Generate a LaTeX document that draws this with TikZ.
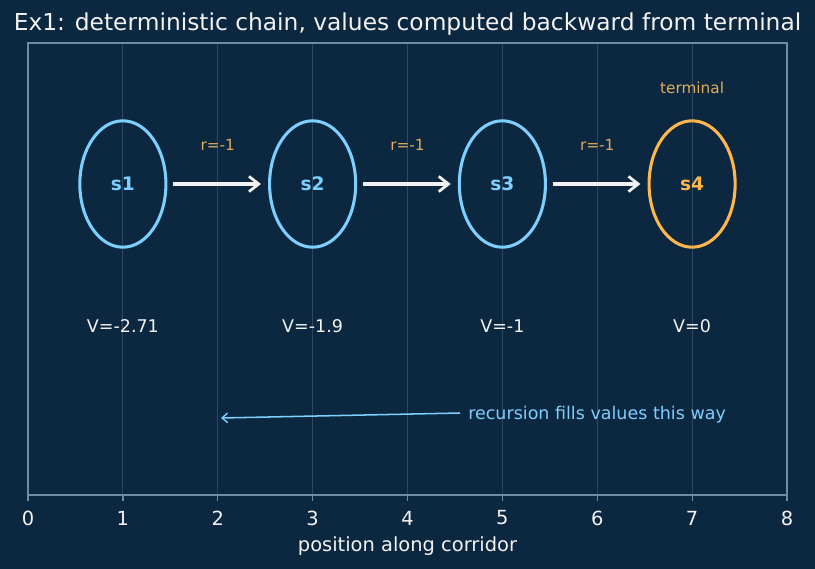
\documentclass[tikz,border=0pt]{standalone}
\usepackage{fontspec}
\setmainfont{DejaVu Sans}
\usetikzlibrary{shapes.geometric,arrows.meta}

\definecolor{bgnavy}{RGB}{12,39,64}
\definecolor{stblue}{RGB}{125,207,255}
\definecolor{termorange}{RGB}{255,183,77}
\definecolor{rorange}{RGB}{226,172,88}
\definecolor{gridline}{RGB}{44,72,98}
\definecolor{spine}{RGB}{112,140,165}
\definecolor{txtwhite}{RGB}{242,242,242}

\tikzset{
  stnode/.style={ellipse,draw=stblue,line width=2.2pt,minimum width=62pt,minimum height=91pt,
    inner sep=0pt,text=stblue,font=\fontsize{13.4}{15}\selectfont\bfseries},
  termnode/.style={stnode,draw=termorange,text=termorange},
  vlab/.style={text=txtwhite,font=\fontsize{12.6}{14}\selectfont},
  rlab/.style={text=rorange,font=\fontsize{11}{13}\selectfont},
  steparrow/.style={draw=txtwhite,line width=2.2pt,-{Straight Barb[length=7pt,width=11pt,line width=2pt]},
    shorten <=4.1pt,shorten >=5.1pt},
  recarrow/.style={draw=stblue,line width=1.1pt,-{Straight Barb[length=4pt,width=7pt,line width=1pt]}},
  ticklab/.style={text=txtwhite,font=\fontsize{14}{16}\selectfont}
}

\begin{document}
\begin{tikzpicture}[x=0.72pt,y=-0.72pt]
  \fill[bgnavy] (0,0) rectangle (815,569);
  \useasboundingbox (0,0) rectangle (815,569);
  % grid and frame
  \foreach \t in {1,...,7}
    \draw[gridline,line width=0.6pt] (\t*94.875+28,43) -- (\t*94.875+28,495);
  \draw[spine,line width=0.9pt] (28,43) rectangle (787,495);
  \foreach \t in {0,...,8} {
    \draw[spine,line width=0.9pt] (\t*94.875+28,495) -- (\t*94.875+28,501);
    \node[ticklab] (tick\t) at (\t*94.875+28,518) {\t};
  }
  \node[ticklab] (xlab) at (407.5,546) {position along corridor};
  \node[text=txtwhite,font=\fontsize{16.8}{19}\selectfont] (title) at (407.5,24)
    {Ex1: deterministic chain, values computed backward from terminal};
  % states
  \foreach \i/\d in {1/1,2/3,3/5}
    \node[stnode] (s\i) at (\d*94.875+28,184) {s\i};
  \node[termnode] (s4) at (692.1,184) {s4};
  \node[rlab] (term) at (692.1,88) {terminal};
  % transitions
  \foreach \i/\j in {1/2,2/3,3/4}
    \draw[steparrow] (s\i) -- (s\j) node[rlab,midway,yshift=28pt] (r\i) {r=-1};
  % values
  \node[vlab] (v1) at (122.9,326) {V=-2.71};
  \node[vlab] (v2) at (312.6,326) {V=-1.9};
  \node[vlab] (v3) at (502.4,326) {V=-1};
  \node[vlab] (v4) at (692.1,326) {V=0};
  % backward recursion
  \node[anchor=west,inner sep=0pt,text=stblue,font=\fontsize{12.6}{14}\selectfont] (rec) at (468,414.5)
    {recursion fills values this way};
  \coordinate (recstart) at (460,413);
  \coordinate (recend) at (221,418);
  \draw[recarrow] (recstart) -- (recend);
\end{tikzpicture}
\end{document}
